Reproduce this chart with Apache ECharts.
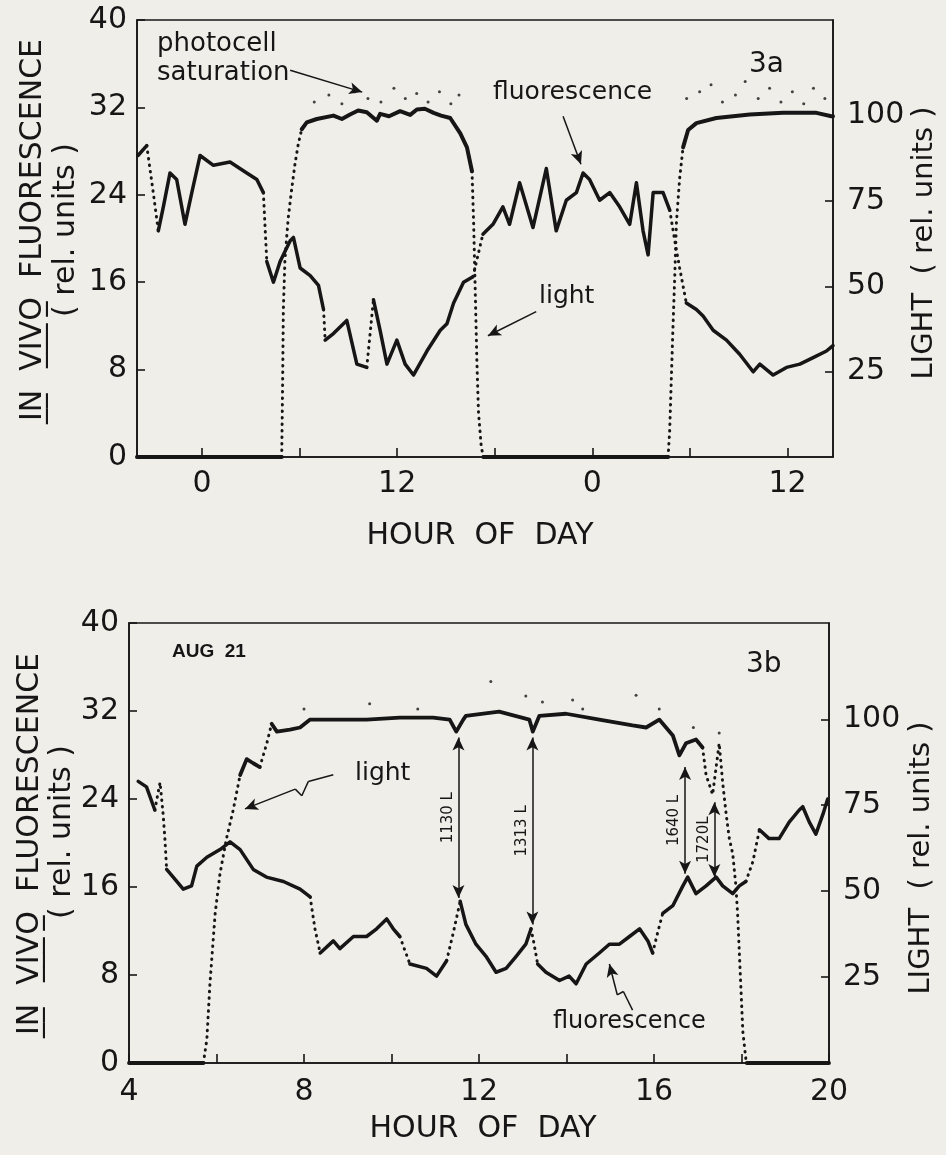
<!DOCTYPE html>
<html>
<head>
<meta charset="utf-8">
<title>In vivo fluorescence and light, Fig. 3a / 3b</title>
<script src="https://cdn.jsdelivr.net/npm/echarts@6/dist/echarts.min.js"></script>
<style>
  html, body { margin: 0; padding: 0; background: #efeee9; }
  #chart { width: 946px; height: 1155px; }
</style>
</head>
<body>
<div id="chart"></div>
<script>
// ---------- data (hour, value) ----------
// 3a : fluorescence (left axis, rel. units) and light (right axis, rel. units)
const topFluor = [
  [-3.94, 27.6], [-3.4, 28.5], [-3.0, 24.2], [-2.69, 20.7], [-2.38, 22.9], [-1.97, 26.0], [-1.56, 25.4],
  [-1.05, 21.3], [-0.63, 24.2], [-0.12, 27.6], [0.7, 26.7], [1.72, 27.0], [2.75, 26.0], [3.37, 25.4],
  [3.77, 24.2], [3.98, 17.9], [4.39, 16.0], [4.8, 17.9], [5.42, 19.8], [5.62, 20.1], [6.03, 17.3],
  [6.65, 16.6], [7.16, 15.7], [7.47, 13.5], [7.57, 10.7], [8.08, 11.3], [8.9, 12.5], [9.52, 8.5],
  [10.13, 8.2], [10.54, 14.4], [10.95, 11.6], [11.37, 8.5], [11.98, 10.7], [12.49, 8.5], [13.0, 7.5],
  [13.83, 9.7], [14.65, 11.6], [15.06, 12.2], [15.47, 14.1], [16.08, 16.0], [16.66, 16.5], [17.27, 20.4],
  [17.89, 21.3], [18.5, 22.9], [18.91, 21.3], [19.53, 25.1], [20.35, 21.0], [21.17, 26.4], [21.78, 20.7],
  [22.4, 23.5], [23.02, 24.2], [23.43, 26.0], [23.83, 25.4], [24.45, 23.5], [25.07, 24.2], [25.68, 22.9],
  [26.3, 21.3], [26.71, 25.1], [27.12, 20.7], [27.43, 18.5], [27.74, 24.2], [28.35, 24.2], [28.76, 22.6],
  [29.07, 19.8], [29.37, 17.3], [29.78, 14.1], [30.4, 13.5], [30.81, 12.9], [31.43, 11.6], [32.25, 10.7],
  [33.06, 9.4], [33.89, 7.8], [34.3, 8.5], [35.12, 7.5], [35.94, 8.2], [36.76, 8.5], [37.58, 9.1],
  [38.4, 9.7], [38.8, 10.2]
];
const topFluorGaps = [[-3.4, -2.69], [3.77, 3.98], [7.47, 7.57], [10.13, 10.54], [16.66, 17.27], [28.76, 29.78]];

const topLight = [
  [-4.0, 0], [4.9, 0], [4.96, 23], [5.0, 43], [5.1, 58], [5.3, 70], [5.5, 78], [5.72, 86], [5.93, 92],
  [6.13, 96], [6.44, 98], [7.06, 99], [8.08, 100], [8.6, 99], [9.1, 100.3], [9.6, 101.5], [10.13, 101],
  [10.75, 98.5], [10.95, 100.5], [11.5, 99.8], [12.18, 101.3], [12.8, 100.2], [13.21, 101.8], [13.7, 102],
  [14.24, 100.8], [14.7, 100], [15.26, 99.3], [15.88, 94.8], [16.29, 90.7], [16.6, 83.7], [16.7, 68.5],
  [16.8, 48.4], [16.9, 28], [17.0, 13], [17.17, 3], [17.3, 0], [28.66, 0], [28.76, 8], [28.86, 23],
  [28.96, 38], [29.07, 53], [29.17, 68.5], [29.37, 81.6], [29.58, 90.7], [29.89, 95.8], [30.4, 97.8],
  [31.63, 99.3], [33.68, 100.3], [35.73, 100.8], [37.78, 100.8], [38.7, 99.8], [38.8, 99.8]
];
const topLightGaps = [[4.9, 6.13], [16.6, 17.3], [28.66, 29.58]];

const topLightStray = [
  [6.9, 104], [7.8, 106], [8.6, 103.5], [9.4, 107], [10.2, 105], [11.0, 104], [11.8, 108], [12.5, 105],
  [13.2, 106.5], [13.9, 104], [14.6, 107], [15.3, 103.5], [15.8, 106],
  [29.8, 105], [30.6, 107], [31.3, 109], [32.0, 104], [32.8, 106], [33.4, 110], [34.2, 105], [34.9, 108],
  [35.6, 104], [36.3, 107], [37.0, 103.5], [37.6, 108], [38.3, 105]
];

// 3b : AUG 21
const botFluor = [
  [4.21, 25.6], [4.4, 25.1], [4.59, 23.0], [4.71, 25.5], [4.78, 22.6], [4.82, 20.4], [4.86, 17.6],
  [5.01, 16.9], [5.24, 15.8], [5.43, 16.1], [5.55, 17.9], [5.78, 18.7], [6.08, 19.4], [6.31, 20.1],
  [6.54, 19.4], [6.84, 17.6], [7.14, 16.9], [7.53, 16.5], [7.91, 15.8], [8.14, 15.1], [8.25, 12.2],
  [8.37, 10.0], [8.67, 11.1], [8.82, 10.4], [9.13, 11.5], [9.43, 11.5], [9.66, 12.2], [9.89, 13.1],
  [10.04, 12.2], [10.19, 11.5], [10.42, 9.0], [10.8, 8.6], [11.03, 7.9], [11.26, 9.3], [11.41, 11.8],
  [11.57, 14.7], [11.7, 12.6], [11.93, 10.8], [12.16, 9.7], [12.39, 8.25], [12.62, 8.6], [12.85, 9.7],
  [13.07, 10.8], [13.19, 12.2], [13.26, 10.8], [13.34, 9.0], [13.53, 8.25], [13.84, 7.5], [14.06, 7.9],
  [14.22, 7.2], [14.45, 9.0], [14.75, 10.0], [14.98, 10.8], [15.21, 10.8], [15.44, 11.5], [15.67, 12.2],
  [15.86, 11.1], [15.97, 10.0], [16.08, 11.8], [16.2, 13.6], [16.43, 14.3], [16.66, 16.1], [16.77, 16.9],
  [16.96, 15.4], [17.19, 16.1], [17.42, 16.9], [17.57, 16.1], [17.8, 15.4], [17.95, 16.1], [18.1, 16.5],
  [18.26, 18.3], [18.41, 21.2], [18.63, 20.4], [18.86, 20.4], [19.09, 21.9], [19.32, 23.0], [19.4, 23.3],
  [19.55, 21.9], [19.7, 20.8], [19.86, 22.6], [19.97, 24.0]
];
const botFluorGaps = [[4.59, 4.86], [8.14, 8.37], [10.19, 10.42], [11.26, 11.57], [13.19, 13.34], [15.97, 16.2], [18.1, 18.41]];

const botLight = [
  [4.0, 0], [5.7, 0], [5.78, 6.9], [5.85, 23], [5.97, 43.6], [6.08, 55.1], [6.23, 65.4], [6.38, 73.5],
  [6.54, 83.8], [6.69, 88.4], [6.84, 87.2], [6.99, 86.1], [7.15, 93], [7.26, 98.7], [7.38, 96.4],
  [7.68, 97], [7.91, 97.6], [8.14, 99.9], [8.67, 99.9], [9.43, 99.9], [10.19, 100.5], [10.95, 100.5],
  [11.33, 99.9], [11.48, 96.4], [11.64, 99.9], [11.7, 101], [12.46, 102.2], [13.15, 99.9], [13.23, 96.4],
  [13.38, 101], [13.99, 101.6], [14.75, 99.9], [15.51, 98.2], [15.82, 97.6], [16.12, 99.9], [16.43, 95.3],
  [16.58, 89.5], [16.73, 93], [16.96, 94.1], [17.11, 91.8], [17.19, 83.8], [17.34, 78.1], [17.49, 93],
  [17.57, 81.5], [17.65, 72.3], [17.72, 65.4], [17.8, 60.8], [17.87, 51.7], [17.91, 43.6], [17.95, 32.1],
  [17.99, 20.7], [18.03, 9.2], [18.1, 1.1], [18.12, 0], [20.0, 0]
];
const botLightGaps = [[5.7, 6.54], [6.99, 7.26], [17.11, 18.12]];

const botLightStray = [
  [8.0, 103], [9.5, 104.5], [10.6, 103], [12.27, 111], [13.07, 106.8], [13.45, 105], [14.14, 105.6],
  [14.37, 103], [15.59, 107], [16.12, 103], [16.9, 97.6], [17.49, 96]
];

// pointers (hour, fluorescence units)
const topPointers = [
  [[5.42, 35.4], [9.85, 33.4]],
  [[22.2, 31.2], [23.3, 26.8]],
  [[20.55, 13.3], [17.58, 11.1]]
];
const botPointers = [
  [[8.67, 26.2], [8.1, 25.6], [7.95, 24.3], [7.8, 24.9], [6.65, 23.1]],
  [[15.51, 4.8], [15.3, 6.5], [15.16, 6.2], [14.98, 9.0]]
];
const botSpans = [
  { hour: 11.53, from: 15.0, to: 29.6, text: '1130 L' },
  { hour: 13.22, from: 12.6, to: 29.6, text: '1313 L' },
  { hour: 16.71, from: 17.2, to: 26.9, text: '1640 L' },
  { hour: 17.38, from: 16.9, to: 23.7, text: '1720L' }
];

const topTicks = [0, 6, 12, 18, 24, 30, 36];
const topLabels = [0, 12, 24, 36];
const botLabels = [4, 8, 12, 16, 20];
const lightTicks = [25, 50, 75, 100];

// ---------- helpers ----------
const ink = '#161616';
const font = 'DejaVu Sans';

// split a trace into dense (solid) and sparse (dotted) runs
function splitRuns(points, ranges) {
  const solid = [], dotted = [];
  const inside = (a, b) => ranges.some(r => a >= r[0] - 1e-9 && b <= r[1] + 1e-9);
  for (let i = 0; i < points.length - 1; i++) {
    const p = points[i], q = points[i + 1];
    const out = inside(p[0], q[0]) ? dotted : solid;
    const last = out[out.length - 1];
    if (!last || last[0] !== p[0] || last[1] !== p[1]) {
      if (last) out.push([p[0], '-']);
      out.push(p);
    }
    out.push(q);
  }
  return { solid, dotted };
}

function pointerLines(polys) {
  const res = [];
  polys.forEach(poly => {
    for (let i = 0; i < poly.length - 1; i++) {
      res.push([
        { coord: poly[i], symbol: 'none' },
        { coord: poly[i + 1], symbol: i === poly.length - 2 ? 'arrow' : 'none' }
      ]);
    }
  });
  return res;
}

function spanLines(spans) {
  return spans.map(s => [
    {
      coord: [s.hour, s.from], symbol: 'arrow',
      label: { show: true, formatter: s.text, position: 'insideMiddleTop', distance: 3,
        fontSize: 15, fontFamily: font, color: ink }
    },
    { coord: [s.hour, s.to], symbol: 'arrow' }
  ]);
}

function traces(points, gaps, xi, yi, width) {
  const r = splitRuns(points, gaps);
  return [
    { type: 'line', xAxisIndex: xi, yAxisIndex: yi, data: r.solid, showSymbol: false, symbol: 'none',
      lineStyle: { color: ink, width: width, join: 'round', cap: 'round' }, silent: true },
    { type: 'line', xAxisIndex: xi, yAxisIndex: yi, data: r.dotted, showSymbol: false, symbol: 'none',
      lineStyle: { color: ink, width: 3, type: [0.5, 6], cap: 'round' }, silent: true }
  ];
}

function strays(points, xi, yi) {
  return { type: 'scatter', xAxisIndex: xi, yAxisIndex: yi, data: points, symbolSize: 3,
    itemStyle: { color: ink }, silent: true };
}

function leftAxis(gi) {
  return {
    gridIndex: gi, type: 'value', position: 'left', min: 0, max: 40, interval: 8,
    axisLine: { show: true, onZero: false, lineStyle: { color: ink, width: 1.6 } },
    axisTick: { show: true, inside: true, length: 8, lineStyle: { color: ink, width: 1.6 } },
    axisLabel: { fontSize: 30, fontFamily: font, color: ink, margin: 10 },
    splitLine: { show: false }
  };
}

function rightAxis(gi) {
  return {
    gridIndex: gi, type: 'value', position: 'right', min: 0, max: 128,
    axisLine: { show: true, onZero: false, lineStyle: { color: ink, width: 1.6 } },
    axisTick: { show: true, inside: true, length: 8, customValues: lightTicks, lineStyle: { color: ink, width: 1.6 } },
    axisLabel: { customValues: lightTicks, fontSize: 30, fontFamily: font, color: ink, margin: 14 },
    splitLine: { show: false }
  };
}

// ---------- chart ----------
const chart = echarts.init(document.getElementById('chart'));

const topF = traces(topFluor, topFluorGaps, 0, 0, 3.5);
topF[0].markLine = {
  silent: true, animation: false, symbolSize: [9, 13],
  lineStyle: { color: ink, width: 1.5, type: 'solid' },
  label: { show: false }, emphasis: { disabled: true },
  data: pointerLines(topPointers)
};
const botF = traces(botFluor, botFluorGaps, 1, 2, 3.5);
botF[0].markLine = {
  silent: true, animation: false, symbolSize: [9, 13],
  lineStyle: { color: ink, width: 1.5, type: 'solid' },
  label: { show: false }, emphasis: { disabled: true },
  data: pointerLines(botPointers).concat(spanLines(botSpans))
};

const txt = (text, x, y, size, extra) => Object.assign({
  type: 'text', x: x, y: y, silent: true,
  style: Object.assign({ text: text, fill: ink, font: size + 'px "' + font + '"',
    textAlign: 'left', textVerticalAlign: 'middle' }, extra || {})
});
const vtxt = (text, x, y, size) => ({
  type: 'text', x: x, y: y, rotation: Math.PI / 2, silent: true,
  style: { text: text, fill: ink, font: size + 'px "' + font + '"', textAlign: 'center', textVerticalAlign: 'middle' }
});

const option = {
  animation: false,
  backgroundColor: '#efeee9',
  grid: [
    { left: 137, right: 113, top: 20, height: 437, show: true, borderColor: ink, borderWidth: 1.6, backgroundColor: 'transparent' },
    { left: 129, right: 117, top: 623, height: 440, show: true, borderColor: ink, borderWidth: 1.6, backgroundColor: 'transparent' }
  ],
  xAxis: [
    {
      gridIndex: 0, type: 'value', min: -4, max: 38.8,
      axisLine: { show: true, onZero: false, lineStyle: { color: ink, width: 1.6 } },
      axisTick: { show: true, inside: true, length: 9, customValues: topTicks, lineStyle: { color: ink, width: 1.6 } },
      axisLabel: { customValues: topLabels, formatter: v => String(v % 24), fontSize: 30, fontFamily: font, color: ink, margin: 12 },
      splitLine: { show: false }
    },
    {
      gridIndex: 1, type: 'value', min: 4, max: 20, interval: 2,
      axisLine: { show: true, onZero: false, lineStyle: { color: ink, width: 1.6 } },
      axisTick: { show: true, inside: true, length: 9, lineStyle: { color: ink, width: 1.6 } },
      axisLabel: { customValues: botLabels, fontSize: 30, fontFamily: font, color: ink, margin: 14 },
      splitLine: { show: false }
    }
  ],
  yAxis: [leftAxis(0), rightAxis(0), leftAxis(1), rightAxis(1)],
  series: [
    ...topF,
    ...traces(topLight, topLightGaps, 0, 1, 4),
    strays(topLightStray, 0, 1),
    ...botF,
    ...traces(botLight, botLightGaps, 1, 3, 3.8),
    strays(botLightStray, 1, 3)
  ],
  graphic: [
    // 3a
    txt('photocell', 157, 44, 26),
    txt('saturation', 157, 73, 26),
    txt('fluorescence', 493, 92, 25),
    txt('light', 539, 296, 25),
    txt('3a', 749, 65, 28),
    txt('HOUR  OF  DAY', 480, 536, 30, { textAlign: 'center' }),
    vtxt('I\u0332N\u0332  V\u0332I\u0332V\u0332O\u0332  FLUORESCENCE', 33, 230, 30),
    vtxt('( rel. units )', 66, 230, 30),
    vtxt('LIGHT  ( rel. units )', 924, 243, 29),
    // 3b
    { type: 'text', x: 172, y: 652, silent: true,
      style: { text: 'AUG  21', fill: ink, font: 'bold 19px "Liberation Sans"', textAlign: 'left', textVerticalAlign: 'middle' } },
    txt('3b', 746, 665, 28),
    txt('light', 355, 773, 25),
    txt('fluorescence', 553, 1022, 24),
    txt('HOUR  OF  DAY', 483, 1129, 30, { textAlign: 'center' }),
    vtxt('I\u0332N\u0332  V\u0332I\u0332V\u0332O\u0332  FLUORESCENCE', 30, 844, 30),
    vtxt('( rel. units )', 62, 832, 30),
    vtxt('LIGHT  ( rel. units )', 921, 858, 29)
  ]
};

chart.setOption(option);
</script>
</body>
</html>
